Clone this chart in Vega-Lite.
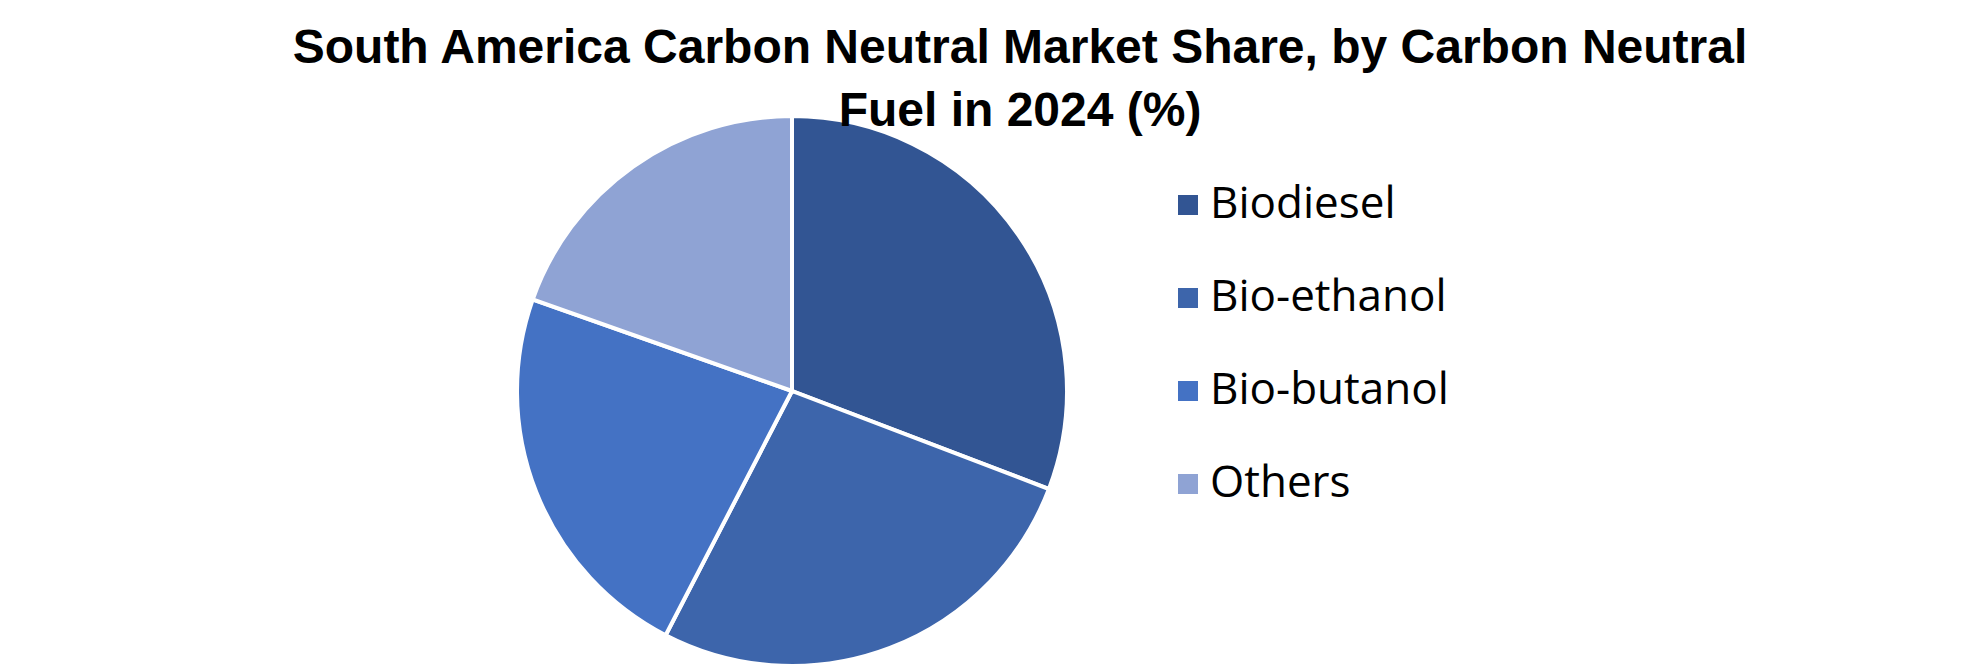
{
  "$schema": "https://vega.github.io/schema/vega-lite/v6.json",
  "width": 550,
  "height": 550,
  "autosize": {"type": "none"},
  "padding": {"left": 517, "top": 116, "right": 913, "bottom": 5},
  "background": "white",
  "title": {
    "text": ["South America Carbon Neutral Market Share, by Carbon Neutral", "Fuel in 2024 (%)"],
    "anchor": "middle",
    "frame": "group",
    "dx": 228,
    "offset": -28,
    "font": "Liberation Sans",
    "fontSize": 48,
    "fontWeight": "bold",
    "color": "black",
    "lineHeight": 63
  },
  "data": {
    "values": [
      {"fuel": "Biodiesel", "share": 30.8, "rank": 1},
      {"fuel": "Bio-ethanol", "share": 26.8, "rank": 2},
      {"fuel": "Bio-butanol", "share": 22.8, "rank": 3},
      {"fuel": "Others", "share": 19.6, "rank": 4}
    ]
  },
  "mark": {"type": "arc", "outerRadius": 275, "stroke": "white", "strokeWidth": 4},
  "encoding": {
    "theta": {"field": "share", "type": "quantitative", "stack": true},
    "order": {"field": "rank", "type": "quantitative"},
    "color": {
      "field": "fuel",
      "type": "nominal",
      "scale": {
        "domain": ["Biodiesel", "Bio-ethanol", "Bio-butanol", "Others"],
        "range": ["#325593", "#3D65AB", "#4472C4", "#8FA3D4"]
      },
      "legend": {
        "orient": "none",
        "legendX": 649,
        "legendY": 67,
        "title": null,
        "symbolType": "square",
        "symbolSize": 400,
        "symbolStrokeWidth": 0,
        "labelFont": "Open Sans",
        "labelFontSize": 44,
        "labelColor": "black",
        "labelLimit": 0,
        "labelOffset": 0,
        "rowPadding": 49,
        "padding": 0
      }
    }
  },
  "config": {"view": {"stroke": null}}
}
